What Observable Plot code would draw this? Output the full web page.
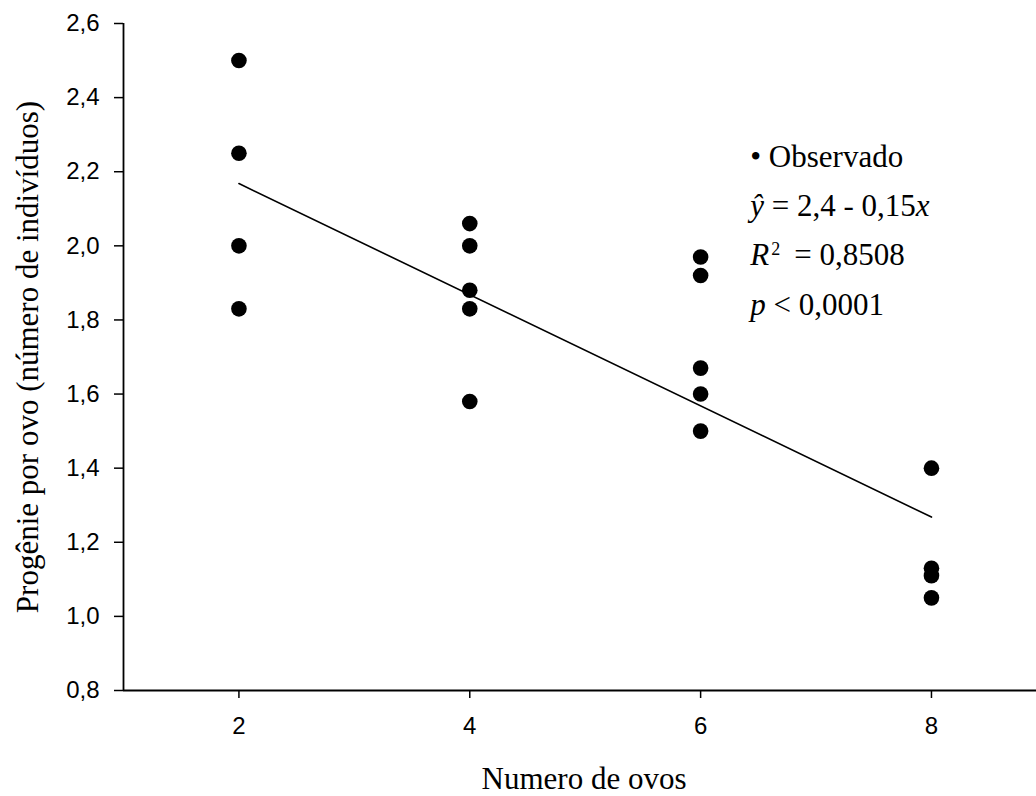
<!DOCTYPE html>
<html>
<head>
<meta charset="utf-8">
<script src="https://cdn.jsdelivr.net/npm/d3@7"></script>
<script src="https://cdn.jsdelivr.net/npm/@observablehq/plot@0.6"></script>
<style>
  html, body { margin: 0; padding: 0; background: #fff; }
  #chart svg { display: block; }
</style>
</head>
<body>
<div id="chart"></div>
<script>
// ---- data ----
const eggCounts = [2, 4, 6, 8];
const progenyAt2 = [2.50, 2.25, 2.00, 1.83];
const progenyAt4 = [2.06, 2.00, 1.88, 1.83, 1.58];
const progenyAt6 = [1.97, 1.92, 1.67, 1.60, 1.50];
const progenyAt8 = [1.40, 1.13, 1.11, 1.05];
const fitX = [2, 8];
const fitY = [2.168, 1.268];
const xTicks = [2, 4, 6, 8];
const yTicks = [0.8, 1.0, 1.2, 1.4, 1.6, 1.8, 2.0, 2.2, 2.4, 2.6];
const xLabel = "Numero de ovos";
const yLabel = "Progênie por ovo (número de indivíduos)";
const legendLines = ["• Observado", "ŷ = 2,4 - 0,15x", "R2 = 0,8508", "p < 0,0001"];

// ---- tables built from the arrays ----
const groups = [progenyAt2, progenyAt4, progenyAt6, progenyAt8];
const points = eggCounts.flatMap((n, i) => groups[i].map(v => ({n, v})));
const fit = fitX.map((n, i) => ({n, v: fitY[i]}));

const serif = "'Liberation Serif', 'Times New Roman', serif";
const sans = "'Liberation Sans', Arial, sans-serif";

const chart = Plot.plot({
  width: 1036,
  height: 796,
  marginLeft: 123,
  marginRight: 0,
  marginTop: 23,
  marginBottom: 106,
  style: {fontFamily: sans, fontSize: "23px", color: "#000", background: "#fff", overflow: "visible"},
  x: {domain: [1, 8.91]},
  y: {domain: [0.8, 2.6]},
  marks: [
    Plot.axisY({ticks: yTicks, tickFormat: d => d.toFixed(1).replace(".", ","), tickSize: 9, tickPadding: 15, strokeWidth: 1.5, label: null, fontSize: 24}),
    Plot.axisX({ticks: xTicks, tickFormat: d => String(d), tickSize: 8, tickPadding: 18, strokeWidth: 1.5, label: null, fontSize: 24}),
    Plot.ruleX([1], {strokeWidth: 1.8}),
    Plot.ruleY([0.8], {strokeWidth: 1.8}),
    Plot.line(fit, {x: "n", y: "v", stroke: "#000", strokeWidth: 1.6}),
    Plot.dot(points, {x: "n", y: "v", r: 7.8, fill: "#000", stroke: null}),
    Plot.text([xLabel], {frameAnchor: "bottom", dy: 89, dx: 4, textAnchor: "middle", lineAnchor: "middle", fontFamily: serif, fontSize: 31}),
    Plot.text([yLabel], {frameAnchor: "left", rotate: -90, dx: -95, textAnchor: "middle", lineAnchor: "middle", fontFamily: serif, fontSize: 31}),
    Plot.text([legendLines.join("\n")], {x: () => 6.43, y: () => 2.308, textAnchor: "start", lineAnchor: "top", lineHeight: 1.59, fontFamily: serif, fontSize: 31, ariaDescription: "legend"})
  ]
});

document.getElementById("chart").appendChild(chart);

// rich formatting for the legend lines (italics, superscript)
const parts = [
  [["• Observado", {}]],
  [["ŷ", {italic: true}], [" = 2,4 - 0,15", {}], ["x", {italic: true}]],
  [["R", {italic: true}], ["2", {sup: true}], ["= 0,8508", {back: true}]],
  [["p", {italic: true}], [" < 0,0001", {}]]
];
d3.select(chart).selectAll('g[aria-description="legend"] text tspan').each(function(_, i) {
  const line = d3.select(this);
  if (!parts[i]) return;
  line.text(null);
  for (const [str, opt] of parts[i]) {
    const t = line.append("tspan").text(str);
    if (opt.italic) t.attr("font-style", "italic");
    if (opt.sup) t.attr("font-size", 18).attr("dy", -10).attr("dx", 2);
    if (opt.back) t.attr("dy", 10).attr("dx", 14);
  }
});
</script>
</body>
</html>
